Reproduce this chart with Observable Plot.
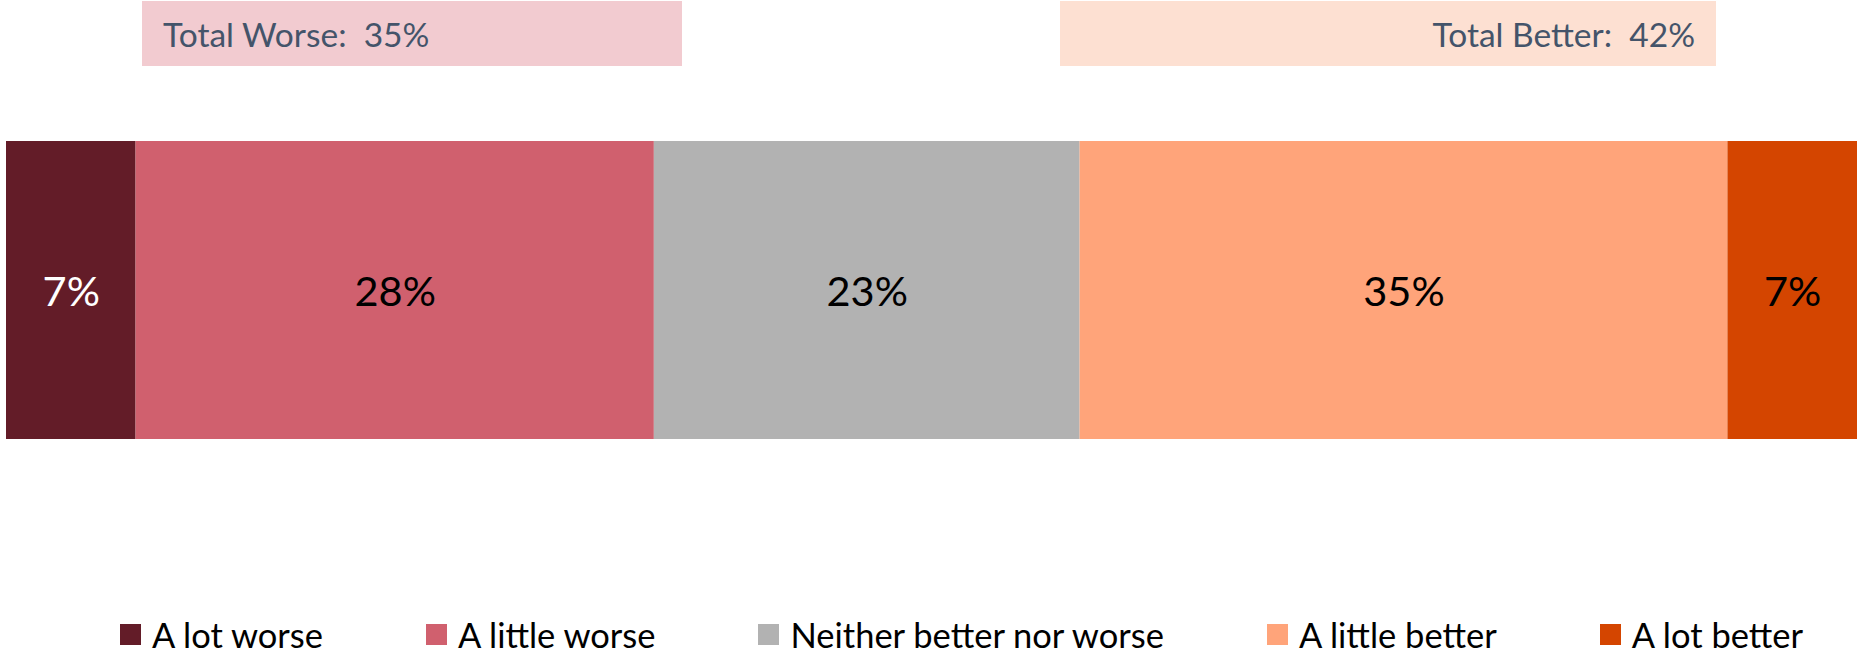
<!DOCTYPE html>
<html>
<head>
<meta charset="utf-8">
<script src="https://cdn.jsdelivr.net/npm/d3@7"></script>
<script src="https://cdn.jsdelivr.net/npm/@observablehq/plot@0.6"></script>
<style>
  html, body { margin: 0; padding: 0; background: #ffffff; overflow: hidden; }
  #page { position: relative; width: 1860px; height: 654px; font-family: Lato, "Open Sans", sans-serif; }
  #header { position: relative; height: 120px; }
  .total { position: absolute; top: 1px; height: 65px; display: flex; align-items: center;
           font-size: 33.5px; color: #44546A; white-space: pre; box-sizing: border-box; }
  #chart svg { display: block; }
  #legend { position: relative; height: 54px; display: flex; gap: 103px; padding-left: 120px;
            padding-top: 15px; box-sizing: border-box; font-size: 34.5px; line-height: 40px; color: #000; }
  .item { display: flex; align-items: center; gap: 11px; white-space: nowrap; }
  .sw { width: 21px; height: 21px; flex: none; }
</style>
</head>
<body>
<div id="page">
  <div id="header"></div>
  <div id="chart"></div>
  <div id="legend"></div>
</div>
<script>
// ---- data ----
const categories = ["A lot worse", "A little worse", "Neither better nor worse", "A little better", "A lot better"];
const values = [7, 28, 23, 35, 7];
const totalLabels = ["Total Worse", "Total Better"];
const totalValues = [35, 42];

// ---- styles ----
const palette = ["#631C28", "#D0606E", "#B2B2B2", "#FFA47A", "#D44500"];

const data = categories.map((c, i) => ({category: c, value: values[i], row: "all"}));

// header boxes
const header = document.getElementById("header");
const boxStyles = [
  {left: 142, width: 540, bg: "#F2CBD0", justify: "flex-start", pad: "0 0 0 21px"},
  {left: 1060, width: 656, bg: "#FDE0D2", justify: "flex-end", pad: "0 21px 0 0"}
];
totalLabels.forEach((t, i) => {
  const d = document.createElement("div");
  d.className = "total";
  const s = boxStyles[i];
  d.style.left = s.left + "px";
  d.style.width = s.width + "px";
  d.style.background = s.bg;
  d.style.justifyContent = s.justify;
  d.style.padding = s.pad;
  d.textContent = `${t}:  ${totalValues[i]}%`;
  header.appendChild(d);
});

const stackOpts = {x: "value", y: "row", order: null};
const chart = Plot.plot({
  width: 1860,
  height: 480,
  marginTop: 21,
  marginBottom: 161,
  marginLeft: 6,
  marginRight: 3,
  style: {fontFamily: "Lato, 'Open Sans', sans-serif", background: "white"},
  x: {domain: [0, 100], axis: null},
  y: {domain: ["all"], axis: null, padding: 0},
  color: {domain: categories, range: palette},
  marks: [
    Plot.barX(data, Plot.stackX({...stackOpts, fill: "category"})),
    Plot.text(data, Plot.filter(d => d.category === categories[0],
      Plot.stackX({...stackOpts, text: d => d.value + "%", fill: "white", fontSize: 41.5, dy: 2}))),
    Plot.text(data, Plot.filter(d => d.category !== categories[0],
      Plot.stackX({...stackOpts, text: d => d.value + "%", fill: "black", fontSize: 41.5, dy: 2})))
  ]
});
document.getElementById("chart").appendChild(chart);

// legend
const legend = document.getElementById("legend");
categories.forEach((c, i) => {
  const it = document.createElement("div");
  it.className = "item";
  const sw = document.createElement("div");
  sw.className = "sw";
  sw.style.background = palette[i];
  const lab = document.createElement("span");
  lab.textContent = c;
  it.appendChild(sw);
  it.appendChild(lab);
  legend.appendChild(it);
});
</script>
</body>
</html>
